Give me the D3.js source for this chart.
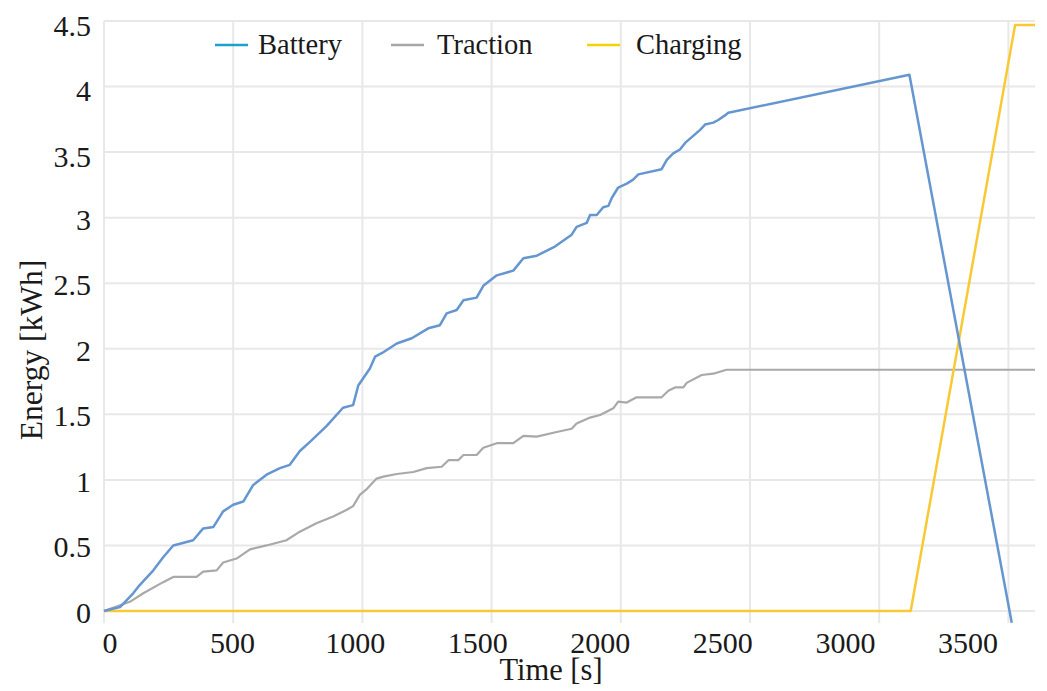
<!DOCTYPE html>
<html>
<head>
<meta charset="utf-8">
<script src="https://cdn.jsdelivr.net/npm/d3@7"></script>
<style>
  html, body { margin: 0; padding: 0; background: #fff; }
  svg { display: block; }
  text { font-family: "Liberation Serif", "DejaVu Serif", serif; fill: #1a1a1a; }
</style>
</head>
<body>
<svg id="chart" width="1047" height="691"></svg>
<script>
// ---- Data ----
const batteryTime = [0,62,113,139,191,229,268,345,384,423,461,500,539,577,629,681,719,758,797,861,925,964,984,1029,1049,1075,1133,1191,1255,1300,1326,1365,1391,1442,1468,1520,1584,1623,1675,1745,1810,1829,1868,1881,1907,1932,1952,1965,1990,2023,2048,2068,2158,2178,2203,2229,2249,2307,2326,2358,2377,2403,2416,3117,3513];
const batteryEnergy = [0,0.03,0.135,0.2,0.31,0.41,0.50,0.54,0.63,0.64,0.76,0.81,0.835,0.96,1.04,1.09,1.115,1.22,1.29,1.41,1.55,1.57,1.72,1.85,1.94,1.966,2.04,2.08,2.156,2.18,2.27,2.296,2.37,2.39,2.48,2.56,2.596,2.69,2.71,2.78,2.87,2.93,2.96,3.02,3.02,3.08,3.09,3.15,3.23,3.26,3.29,3.33,3.37,3.44,3.49,3.52,3.57,3.67,3.71,3.725,3.745,3.78,3.80,4.09,-0.09];

const tractionTime = [0,100,152,229,268,358,384,436,461,513,565,629,706,758,822,887,938,964,990,1017,1055,1081,1133,1197,1249,1307,1333,1371,1391,1442,1468,1520,1584,1623,1675,1752,1810,1829,1881,1920,1971,1990,2023,2061,2158,2184,2210,2242,2255,2313,2358,2409,3603];
const tractionEnergy = [0,0.07,0.135,0.22,0.26,0.26,0.30,0.31,0.37,0.40,0.47,0.50,0.54,0.605,0.67,0.72,0.77,0.80,0.886,0.93,1.01,1.025,1.045,1.06,1.09,1.10,1.15,1.15,1.19,1.19,1.245,1.28,1.28,1.335,1.33,1.365,1.39,1.43,1.475,1.495,1.546,1.597,1.59,1.63,1.63,1.68,1.705,1.705,1.74,1.80,1.81,1.84,1.84];

const chargingTime = [0,3122,3526,3603];
const chargingEnergy = [0,0,4.47,4.47];

const xTicks = [0,500,1000,1500,2000,2500,3000,3500];
const yTicks = [0,0.5,1,1.5,2,2.5,3,3.5,4,4.5];
const yTickLabels = ["0","0.5","1","1.5","2","2.5","3","3.5","4","4.5"];

const seriesNames = ["Battery","Traction","Charging"];

// ---- Layout ----
const svg = d3.select("#chart");
const x = d3.scaleLinear().domain([0, 3603]).range([104, 1035]);
const y = d3.scaleLinear().domain([0, 4.5]).range([611, 21]);
const xLabel = d3.scaleLinear().domain([0, 3500]).range([110, 968]);

const gridColor = "#e8e8e8";

// horizontal gridlines
svg.append("g").selectAll("line").data(yTicks).join("line")
  .attr("x1", 104).attr("x2", 1035)
  .attr("y1", d => y(d)).attr("y2", d => y(d))
  .attr("stroke", gridColor).attr("stroke-width", 2);

// vertical gridlines
svg.append("g").selectAll("line").data(xTicks).join("line")
  .attr("x1", d => x(d)).attr("x2", d => x(d))
  .attr("y1", y(4.5)).attr("y2", 623)
  .attr("stroke", gridColor).attr("stroke-width", 2);

// tick labels
svg.append("g").selectAll("text").data(yTicks).join("text")
  .attr("x", 91).attr("y", d => y(d) + (d >= 3.5 ? 4 : 1.5))
  .attr("text-anchor", "end").attr("dominant-baseline", "central")
  .attr("font-size", 30)
  .text((d, i) => yTickLabels[i]);

svg.append("g").selectAll("text").data(xTicks).join("text")
  .attr("x", d => xLabel(d)).attr("y", 653)
  .attr("text-anchor", "middle")
  .attr("font-size", 30)
  .text(d => String(d));

// axis titles
svg.append("text")
  .attr("x", 551).attr("y", 680)
  .attr("text-anchor", "middle").attr("font-size", 30.5)
  .text("Time [s]");
svg.append("text")
  .attr("transform", "translate(42,350) rotate(-90)")
  .attr("text-anchor", "middle").attr("font-size", 31.5)
  .text("Energy [kWh]");

// lines
const line = d3.line().x(d => x(d[0])).y(d => y(d[1]));
const zip = (a, b) => a.map((t, i) => [t, b[i]]);

svg.append("path").datum(zip(tractionTime, tractionEnergy))
  .attr("d", line).attr("fill", "none")
  .attr("stroke", "#a9a9a9").attr("stroke-width", 2.2)
  .attr("stroke-linejoin", "round");

svg.append("path").datum(zip(chargingTime, chargingEnergy))
  .attr("d", line).attr("fill", "none")
  .attr("stroke", "#f9c935").attr("stroke-width", 2.5)
  .attr("stroke-linejoin", "round");

svg.append("path").datum(zip(batteryTime, batteryEnergy))
  .attr("d", line).attr("fill", "none")
  .attr("stroke", "#6596d0").attr("stroke-width", 2.5)
  .attr("stroke-linejoin", "round");

// legend
const legendColors = ["#1aa2c8", "#a6a6a6", "#f5d200"];
const legendLineX = [215, 391, 587];
const legendTextX = [258, 437, 636];
const lg = svg.append("g");
seriesNames.forEach((name, i) => {
  lg.append("line")
    .attr("x1", legendLineX[i]).attr("x2", legendLineX[i] + 33)
    .attr("y1", 45).attr("y2", 45)
    .attr("stroke", legendColors[i]).attr("stroke-width", 2.5);
  lg.append("text")
    .attr("x", legendTextX[i]).attr("y", 54)
    .attr("font-size", 28.5)
    .text(name);
});
</script>
</body>
</html>
